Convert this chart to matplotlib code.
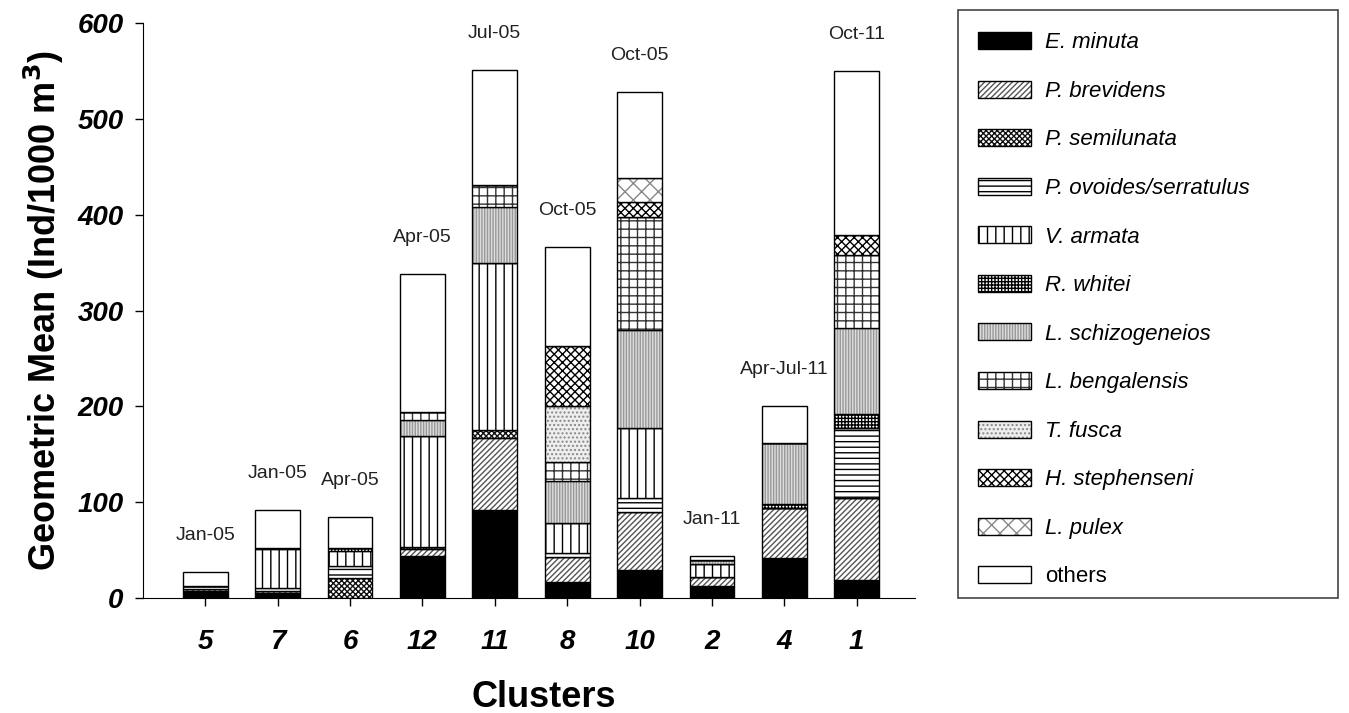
import numpy as np
import matplotlib
matplotlib.use("Agg")
import matplotlib.pyplot as plt
from matplotlib.patches import Patch, Rectangle

plt.rcParams['font.family'] = ['Liberation Sans', 'DejaVu Sans']
plt.rcParams['hatch.linewidth'] = 1.0

clusters = ['5', '7', '6', '12', '11', '8', '10', '2', '4', '1']
months = ['Jan-05', 'Jan-05', 'Apr-05', 'Apr-05', 'Jul-05', 'Oct-05', 'Oct-05', 'Jan-11', 'Apr-Jul-11', 'Oct-11']

species = ['E. minuta', 'P. brevidens', 'P. semilunata', 'P. ovoides/serratulus', 'V. armata',
           'R. whitei', 'L. schizogeneios', 'L. bengalensis', 'T. fusca', 'H. stephenseni',
           'L. pulex', 'others']

# values per cluster (order as clusters list)
e_minuta       = [8, 5, 0, 44, 92, 17, 29, 13, 42, 19]
p_brevidens    = [2, 2, 0, 7, 75, 26, 61, 9, 52, 86]
p_semilunata   = [0, 0, 21, 2, 8, 0, 0, 0, 0, 0]
p_ovoides      = [3, 4, 13, 0, 0, 4, 14, 0, 0, 72]
v_armata       = [0, 40, 15, 116, 175, 31, 73, 14, 0, 0]
r_whitei       = [0, 1, 3, 0, 0, 0, 0, 0, 4, 15]
l_schizo       = [0, 0, 0, 17, 58, 44, 103, 4, 64, 90]
l_bengalensis  = [0, 0, 0, 8, 23, 20, 117, 0, 0, 76]
t_fusca        = [0, 0, 0, 0, 0, 58, 0, 0, 0, 0]
h_stephenseni  = [0, 0, 0, 0, 0, 63, 16, 0, 0, 21]
l_pulex        = [0, 0, 0, 0, 0, 0, 25, 0, 0, 0]
others         = [14, 40, 33, 144, 120, 103, 90, 4, 38, 171]

series = [e_minuta, p_brevidens, p_semilunata, p_ovoides, v_armata, r_whitei,
          l_schizo, l_bengalensis, t_fusca, h_stephenseni, l_pulex, others]

# fill styles: (facecolor, hatch, hatch colour)
styles = [
    ('black', None, 'black'),
    ('white', '//////', '#555555'),
    ('white', 'xxxxxx', '#111111'),
    ('white', '---', 'black'),
    ('white', '||', 'black'),
    ('white', '+++++', 'black'),
    ('#dddddd', '||||||', '#999999'),
    ('white', '++', '#333333'),
    ('#eeeeee', '....', '#888888'),
    ('white', 'xxxx', 'black'),
    ('white', 'xx', '#888888'),
    ('white', None, 'black'),
]

fig = plt.figure(figsize=(13.49, 7.13), dpi=100)
ax = fig.add_axes([0.106, 0.161, 0.572, 0.807])

x = np.arange(len(clusters))
bottom = np.zeros(len(clusters))
handles = []
for vals, (fc, h, hc) in zip(series, styles):
    vals = np.array(vals, dtype=float)
    # hatch takes the edge colour, so fill first and outline after
    ax.bar(x, vals, 0.62, bottom=bottom, facecolor=fc, hatch=h,
           edgecolor=hc, linewidth=0)
    ax.bar(x, vals, 0.62, bottom=bottom, fill=False, edgecolor='black', linewidth=1.0)
    handles.append((Patch(facecolor=fc, hatch=h, edgecolor=hc, linewidth=0),
                    Patch(fill=False, edgecolor='black', linewidth=1.0)))
    bottom += vals

totals = bottom
for xi, t, m in zip(x, totals, months):
    ax.text(xi, t + 38, m, ha='center', va='center', fontsize=14, color='#222222')

ax.set_ylim(0, 600)
ax.set_xlim(-0.86, 9.8)
ax.set_yticks(np.arange(0, 601, 100))
ax.set_xticks(x)
ax.set_xticklabels(clusters)
for lbl in ax.get_xticklabels() + ax.get_yticklabels():
    lbl.set_fontweight('bold')
    lbl.set_fontstyle('italic')
    lbl.set_fontsize(20)
ax.tick_params(axis='both', direction='out', length=6, width=1, pad=8)
ax.tick_params(axis='x', pad=16)
ax.spines['top'].set_visible(False)
ax.spines['right'].set_visible(False)
ax.set_ylabel('Geometric Mean (Ind/1000 m$\\mathbf{^3}$)', fontsize=26, fontweight='bold', labelpad=8)
ax.set_xlabel('Clusters', fontsize=26, fontweight='bold')
ax.xaxis.set_label_coords(0.52, -0.143)

# legend box drawn separately so its size matches the original
fig.patches.append(Rectangle((0.7102, 0.161), 0.2816, 0.825, transform=fig.transFigure,
                             fill=False, edgecolor='#444444', linewidth=1.2))
leg = fig.legend(handles, species, loc='upper left', bbox_to_anchor=(0.725, 0.955),
                 frameon=False, fontsize=16, labelspacing=1.23,
                 handlelength=2.4, handleheight=0.8, borderpad=0, handletextpad=0.6,
                 borderaxespad=0)
for t in leg.get_texts()[:-1]:
    t.set_fontstyle('italic')

fig.savefig('out.png', dpi=100)
